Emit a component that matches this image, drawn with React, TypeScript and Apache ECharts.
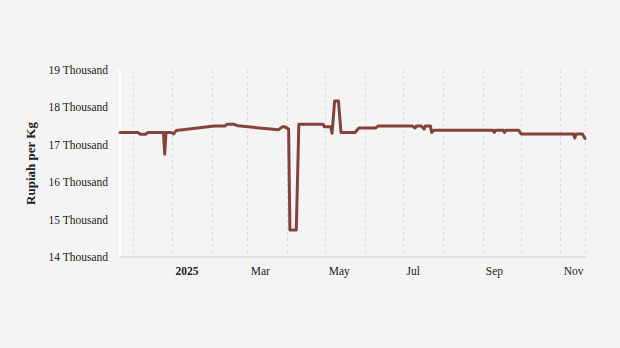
import React, { useEffect, useRef } from "react";
import * as echarts from "echarts";

const dates: string[] = [
  "2024-11-21", "2024-12-05", "2024-12-07", "2024-12-11", "2024-12-13", "2024-12-25",
  "2024-12-26", "2024-12-27", "2024-12-31", "2025-01-02", "2025-01-04", "2025-02-03",
  "2025-02-11", "2025-02-13", "2025-02-18", "2025-02-21", "2025-03-25", "2025-03-28",
  "2025-03-30", "2025-04-02", "2025-04-03", "2025-04-08", "2025-04-10", "2025-04-29",
  "2025-04-30", "2025-05-05", "2025-05-06", "2025-05-08", "2025-05-11", "2025-05-13",
  "2025-05-24", "2025-05-27", "2025-06-09", "2025-06-11", "2025-07-08", "2025-07-10",
  "2025-07-11", "2025-07-15", "2025-07-17", "2025-07-18", "2025-07-22", "2025-07-23",
  "2025-07-25", "2025-09-09", "2025-09-10", "2025-09-11", "2025-09-17", "2025-09-18",
  "2025-09-19", "2025-09-29", "2025-10-01", "2025-11-11", "2025-11-12", "2025-11-13",
  "2025-11-18", "2025-11-20",
];

const prices: number[] = [
  17.33, 17.33, 17.28, 17.28, 17.33, 17.33,
  16.75, 17.33, 17.33, 17.29, 17.38, 17.5,
  17.5, 17.55, 17.55, 17.51, 17.4, 17.48,
  17.48, 17.42, 14.72, 14.72, 17.55, 17.55,
  17.48, 17.48, 17.31, 18.17, 18.17, 17.33,
  17.33, 17.45, 17.45, 17.5, 17.5, 17.45,
  17.5, 17.5, 17.42, 17.5, 17.5, 17.33,
  17.39, 17.39, 17.33, 17.39, 17.39, 17.33,
  17.39, 17.39, 17.29, 17.29, 17.18, 17.29,
  17.29, 17.17,
];

const monthNames: string[] = ["Jan", "Feb", "Mar", "Apr", "May", "Jun", "Jul", "Aug", "Sep", "Oct", "Nov", "Dec"];
const yTicks: number[] = [14, 15, 16, 17, 18, 19];

const FONT = "Liberation Serif";

export default function App() {
  const ref = useRef<HTMLDivElement>(null);
  useEffect(() => {
    if (!ref.current) return;
    document.body.style.margin = "0";
    document.body.style.background = "#f4f4f4";
    const chart = echarts.init(ref.current, null, { renderer: "svg" });
    const DAY = 24 * 3600 * 1000;
    chart.setOption({
      animation: false,
      backgroundColor: "#f4f4f4",
      textStyle: { fontFamily: FONT },
      grid: { left: 120, right: 35, top: 70, bottom: 91, containLabel: false },
      xAxis: {
        type: "time",
        min: new Date("2024-11-21T00:00:00").getTime(),
        max: new Date("2025-11-20T00:00:00").getTime(),
        minInterval: 28 * DAY,
        maxInterval: 31 * DAY,
        splitNumber: 12,
        axisLine: { show: true, lineStyle: { color: "#e2e2e2", width: 2 } },
        axisTick: { show: false },
        splitLine: { show: true, lineStyle: { color: "#dddddd", type: [3, 3], width: 1 } },
        axisLabel: {
          show: true,
          hideOverlap: false,
          showMinLabel: false,
          showMaxLabel: false,
          align: "left",
          padding: [0, 0, 0, 3],
          margin: 8,
          fontFamily: FONT,
          fontSize: 11.5,
          color: "#222",
          formatter: (val: number) => {
            const d = new Date(val);
            const m = d.getMonth();
            if (m % 2 !== 0) return "";
            if (m === 0) return "{b|" + d.getFullYear() + "}";
            return monthNames[m];
          },
          rich: {
            b: { fontWeight: "bold", fontFamily: FONT, fontSize: 11.5, color: "#222" },
          },
        },
      },
      yAxis: {
        type: "value",
        min: yTicks[0],
        max: yTicks[yTicks.length - 1],
        interval: 1,
        name: "Rupiah per Kg",
        nameLocation: "middle",
        nameGap: 80,
        nameTextStyle: { fontFamily: FONT, fontSize: 13, fontWeight: "bold", color: "#222" },
        axisLine: { show: true, lineStyle: { color: "#ffffff", width: 2 } },
        axisTick: { show: true, length: 4, lineStyle: { color: "#ffffff", width: 1 } },
        splitLine: { show: false },
        axisLabel: {
          fontFamily: FONT,
          fontSize: 11.5,
          color: "#222",
          margin: 12,
          formatter: (v: number) => v + " Thousand",
        },
      },
      series: [
        {
          type: "line",
          data: dates.map((d, i) => [new Date(d + "T00:00:00").getTime(), prices[i]]),
          showSymbol: false,
          symbol: "none",
          lineStyle: { color: "#83433a", width: 3, join: "round", cap: "round" },
        },
      ],
    });
    return () => chart.dispose();
  }, []);
  return <div ref={ref} style={{ width: 620, height: 348 }} />;
}
